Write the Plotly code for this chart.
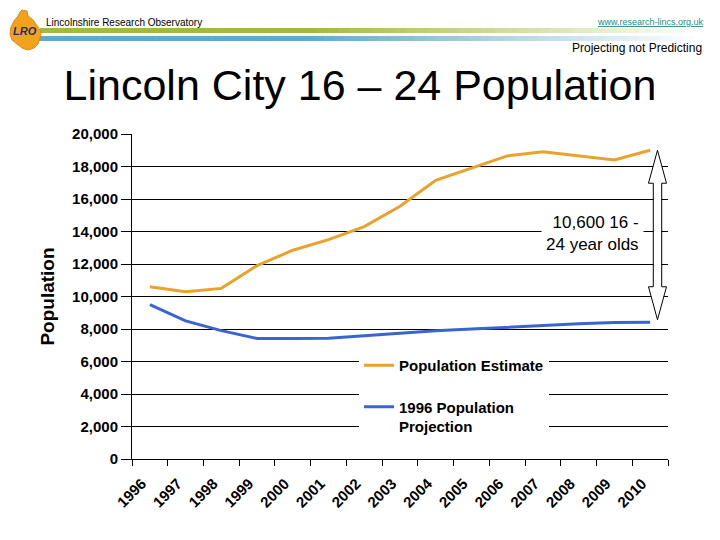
import plotly.graph_objects as go

years = ["1996", "1997", "1998", "1999", "2000", "2001", "2002", "2003",
         "2004", "2005", "2006", "2007", "2008", "2009", "2010"]
population_estimate = [10600, 10300, 10500, 11900, 12850, 13500, 14300, 15550,
                       17150, 17900, 18650, 18900, 18650, 18400, 19000]
projection_1996 = [9500, 8500, 7900, 7420, 7420, 7430, 7580, 7750,
                   7900, 8000, 8120, 8220, 8320, 8400, 8420]
y_ticks = [0, 2000, 4000, 6000, 8000, 10000, 12000, 14000, 16000, 18000, 20000]
arrow_label = "10,600 16 -<br>24 year olds"

# page is offset by the 8px body margin; all pixel positions below are page pixels
OFF = 8
W, H = 720 - OFF, 540 - OFF
PL, PR, PT, PB = 132, 668, 134, 459          # plot area in page pixels
PW, PH = PR - PL, PB - PT
L, T = PL - OFF, PT - OFF
R, B = 720 - PR, 540 - PB


def X(px):
    return (px - PL) / PW


def Y(py):
    return (PB - py) / PH


FONT = "Arial, Liberation Sans, sans-serif"
ORANGE = "#E9A22C"
BLUE = "#3A64D0"

fig = go.Figure()
fig.add_trace(go.Scatter(x=years, y=population_estimate, mode="lines",
                         name="Population Estimate",
                         line=dict(color=ORANGE, width=3), legendgroup="a"))
fig.add_trace(go.Scatter(x=years, y=projection_1996, mode="lines",
                         name="1996 Population<br>Projection",
                         line=dict(color=BLUE, width=3), legendgroup="b"))

shapes = []
# header gradient bars
n = 60
for i in range(n):
    t = i / (n - 1)
    f = max(0.0, (t - 0.4) / 0.6)
    x0g = 40 + (705 - 40) * i / n
    x1g = 40 + (705 - 40) * (i + 1) / n
    g0 = (160, 186, 60)
    cg = tuple(int(c + (255 - c) * f) for c in g0)
    shapes.append(dict(type="rect", xref="paper", yref="paper",
                       x0=X(x0g), x1=X(x1g) + 0.001, y0=Y(33), y1=Y(28),
                       fillcolor="rgb(%d,%d,%d)" % cg, line=dict(width=0)))
    x0b = 33 + (705 - 33) * i / n
    x1b = 33 + (705 - 33) * (i + 1) / n
    b0 = (96, 170, 200)
    cb = tuple(int(c + (255 - c) * f) for c in b0)
    shapes.append(dict(type="rect", xref="paper", yref="paper",
                       x0=X(x0b), x1=X(x1b) + 0.001, y0=Y(41), y1=Y(36),
                       fillcolor="rgb(%d,%d,%d)" % cb, line=dict(width=0)))

# logo blob
logo_pts = [(22, 10), (27, 11), (28, 16), (33, 20), (38, 27), (41, 32), (40, 38),
            (38, 44), (34, 48), (28, 50), (22, 48), (17, 44), (12, 40), (10, 34),
            (11, 27), (14, 21), (18, 16), (20, 12)]
path = "M " + " L ".join("%f,%f" % (X(px), Y(py)) for px, py in logo_pts) + " Z"
shapes.append(dict(type="path", xref="paper", yref="paper", path=path,
                   fillcolor="#F4A11E", line=dict(color="#E08A10", width=1)))

# double arrow between the two 2010 values
top = population_estimate[-1]
bot = projection_1996[-1] + 150
hl = 2030
xc, sw, hw = X(657.5), 4.2 / PW, 9 / PW
pts = [(xc, top), (xc + hw, top - hl), (xc + sw, top - hl), (xc + sw, bot + hl),
       (xc + hw, bot + hl), (xc, bot), (xc - hw, bot + hl), (xc - sw, bot + hl),
       (xc - sw, top - hl), (xc - hw, top - hl)]
apath = "M " + " L ".join("%f,%f" % p for p in pts) + " Z"
shapes.append(dict(type="path", xref="paper", yref="y", path=apath,
                   fillcolor="white", line=dict(color="black", width=1)))

annotations = [
    dict(text="<b><i>LRO</i></b>", xref="paper", yref="paper", x=X(25), y=Y(31),
         xanchor="center", yanchor="middle", showarrow=False,
         font=dict(family=FONT, size=11, color="#1F2F6F")),
    dict(text="Lincolnshire Research Observatory", xref="paper", yref="paper",
         x=X(44), y=Y(22), xanchor="left", yanchor="middle", showarrow=False,
         font=dict(family=FONT, size=10, color="black")),
    dict(text="<u>www.research-lincs.org.uk</u>", xref="paper", yref="paper",
         x=X(706), y=Y(22), xanchor="right", yanchor="middle", showarrow=False,
         font=dict(family=FONT, size=9, color="#1F8A8A")),
    dict(text="Projecting not Predicting", xref="paper", yref="paper",
         x=X(704), y=Y(48), xanchor="right", yanchor="middle", showarrow=False,
         font=dict(family=FONT, size=12, color="black")),
    dict(text=arrow_label, xref="paper", yref="paper", x=X(644), y=Y(233),
         xanchor="right", yanchor="middle", align="right", showarrow=False,
         bgcolor="white", borderpad=4,
         font=dict(family=FONT, size=17, color="black")),
]

fig.update_layout(
    width=W, height=H,
    margin=dict(l=L, r=R, t=T, b=B, autoexpand=False),
    paper_bgcolor="white", plot_bgcolor="white",
    title=dict(text="Lincoln City 16 – 24 Population", x=(360 - OFF) / W,
               xanchor="center", y=1 - (85 - OFF) / H, yanchor="middle",
               font=dict(family=FONT, size=43, color="black")),
    font=dict(family=FONT, color="black"),
    shapes=shapes,
    annotations=annotations,
    showlegend=True,
    legend=dict(x=X(359), y=Y(349), xanchor="left", yanchor="top",
                bgcolor="white", borderwidth=0, tracegroupgap=19, valign="top",
                font=dict(family=FONT, size=15, color="black", weight="bold")),
    xaxis=dict(type="category", range=[-0.5, len(years) - 0.5],
               showgrid=False, showline=True, linecolor="black",
               linewidth=1, ticks="outside", ticklen=6, tickcolor="black",
               tickson="boundaries", tickangle=-45,
               ticklabelstandoff=9, ticklabelshift=-8,
               tickfont=dict(family=FONT, size=15, color="black", weight="bold"),
               fixedrange=True),
    yaxis=dict(range=[0, 20000], tickvals=y_ticks, tickformat=",",
               showgrid=True, gridcolor="black", gridwidth=1, zeroline=False,
               showline=True, linecolor="black", linewidth=1,
               ticks="outside", ticklen=10, tickcolor="black",
               tickfont=dict(family=FONT, size=15, color="black", weight="bold"),
               title=dict(text="Population", standoff=12,
                          font=dict(family=FONT, size=19, color="black",
                                    weight="bold")),
               fixedrange=True),
)

fig.write_html("out.html")
